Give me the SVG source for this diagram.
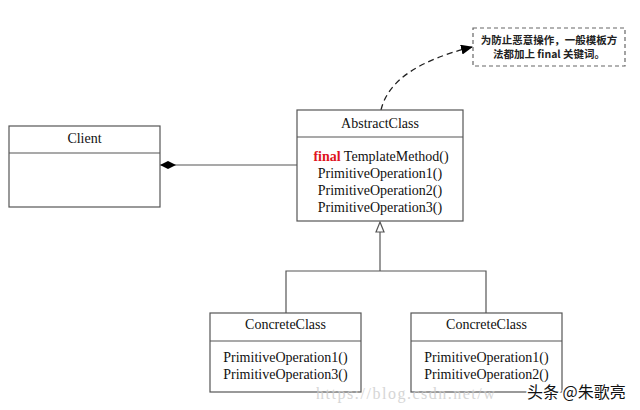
<svg xmlns="http://www.w3.org/2000/svg" width="640" height="410" viewBox="0 0 640 410">
<style>
.box{fill:#fff;stroke:#555;stroke-width:1.2}
.t{font-family:"Liberation Serif","Times New Roman",serif;font-size:14px;fill:#111;text-anchor:middle}
.line{stroke:#555;stroke-width:1.2;fill:none}
.note{font-family:"Noto Sans CJK SC","Noto Sans",sans-serif;font-size:10.5px;font-weight:bold;fill:#222;text-anchor:middle}
</style>
<defs>
<marker id="dia" markerWidth="16" markerHeight="10" refX="0" refY="5" orient="auto" markerUnits="userSpaceOnUse">
<path d="M0,5 L8,1 L16,5 L8,9 Z" fill="#000"/>
</marker>
<marker id="arr" markerWidth="12" markerHeight="10" refX="11" refY="5" orient="auto" markerUnits="userSpaceOnUse">
<path d="M0,0 L12,5 L0,10 Z" fill="#000"/>
</marker>
</defs>
<rect width="640" height="410" fill="#fff"/>
<g id="connectors">
<line class="line" x1="160" y1="165" x2="297" y2="165" marker-start="url(#dia)"/>
<path class="line" d="M380,271 V232"/>
<path d="M380,222 L384,232 L376,232 Z" fill="#fff" stroke="#555" stroke-width="1.2"/>
<path class="line" d="M286,313 V271 H486 V313"/>
<path d="M381,110 C388,80 420,60 472,47" fill="none" stroke="#222" stroke-width="1.3" stroke-dasharray="6,4" marker-end="url(#arr)"/>
</g>
<g id="note">
<rect x="473" y="28" width="152" height="38" fill="#fff" stroke="#666" stroke-width="1.2" stroke-dasharray="4,3"/>
<text class="note" x="549" y="44">为防止恶意操作，一般模板方</text>
<text class="note" x="549" y="58">法都加上 final 关键词。</text>
</g>
<g id="client">
<rect class="box" x="9" y="126" width="151" height="81"/>
<line class="line" x1="9" y1="153" x2="160" y2="153"/>
<text class="t" x="84.5" y="143">Client</text>
</g>
<g id="abstractclass">
<rect class="box" x="297" y="110" width="166" height="111"/>
<line class="line" x1="297" y1="137" x2="463" y2="137"/>
<text class="t" x="380" y="128">AbstractClass</text>
<text class="t" x="381" y="161"><tspan fill="#e0141e" font-weight="bold">final</tspan> TemplateMethod()</text>
<text class="t" x="380" y="178">PrimitiveOperation1()</text>
<text class="t" x="380" y="195">PrimitiveOperation2()</text>
<text class="t" x="380" y="212">PrimitiveOperation3()</text>
</g>
<g id="concrete1">
<rect class="box" x="210" y="313" width="151" height="79"/>
<line class="line" x1="210" y1="341" x2="361" y2="341"/>
<text class="t" x="285.5" y="329">ConcreteClass</text>
<text class="t" x="285.5" y="362">PrimitiveOperation1()</text>
<text class="t" x="285.5" y="379">PrimitiveOperation3()</text>
</g>
<g id="concrete2">
<rect class="box" x="411" y="313" width="151" height="79"/>
<line class="line" x1="411" y1="341" x2="562" y2="341"/>
<text class="t" x="486.5" y="329">ConcreteClass</text>
<text class="t" x="486.5" y="362">PrimitiveOperation1()</text>
<text class="t" x="486.5" y="379">PrimitiveOperation2()</text>
</g>
<g id="watermark">
<text x="316" y="399" font-family="Liberation Serif,serif" font-size="16" fill="#ccc" letter-spacing="1.5" opacity="0.8">https://blog.csdn.net/w</text>
<text x="527" y="398" font-family="Noto Sans CJK SC,sans-serif" font-size="16" fill="#111" stroke="#fff" stroke-width="3" paint-order="stroke">头条 @朱歌亮</text>
</g>
</svg>
